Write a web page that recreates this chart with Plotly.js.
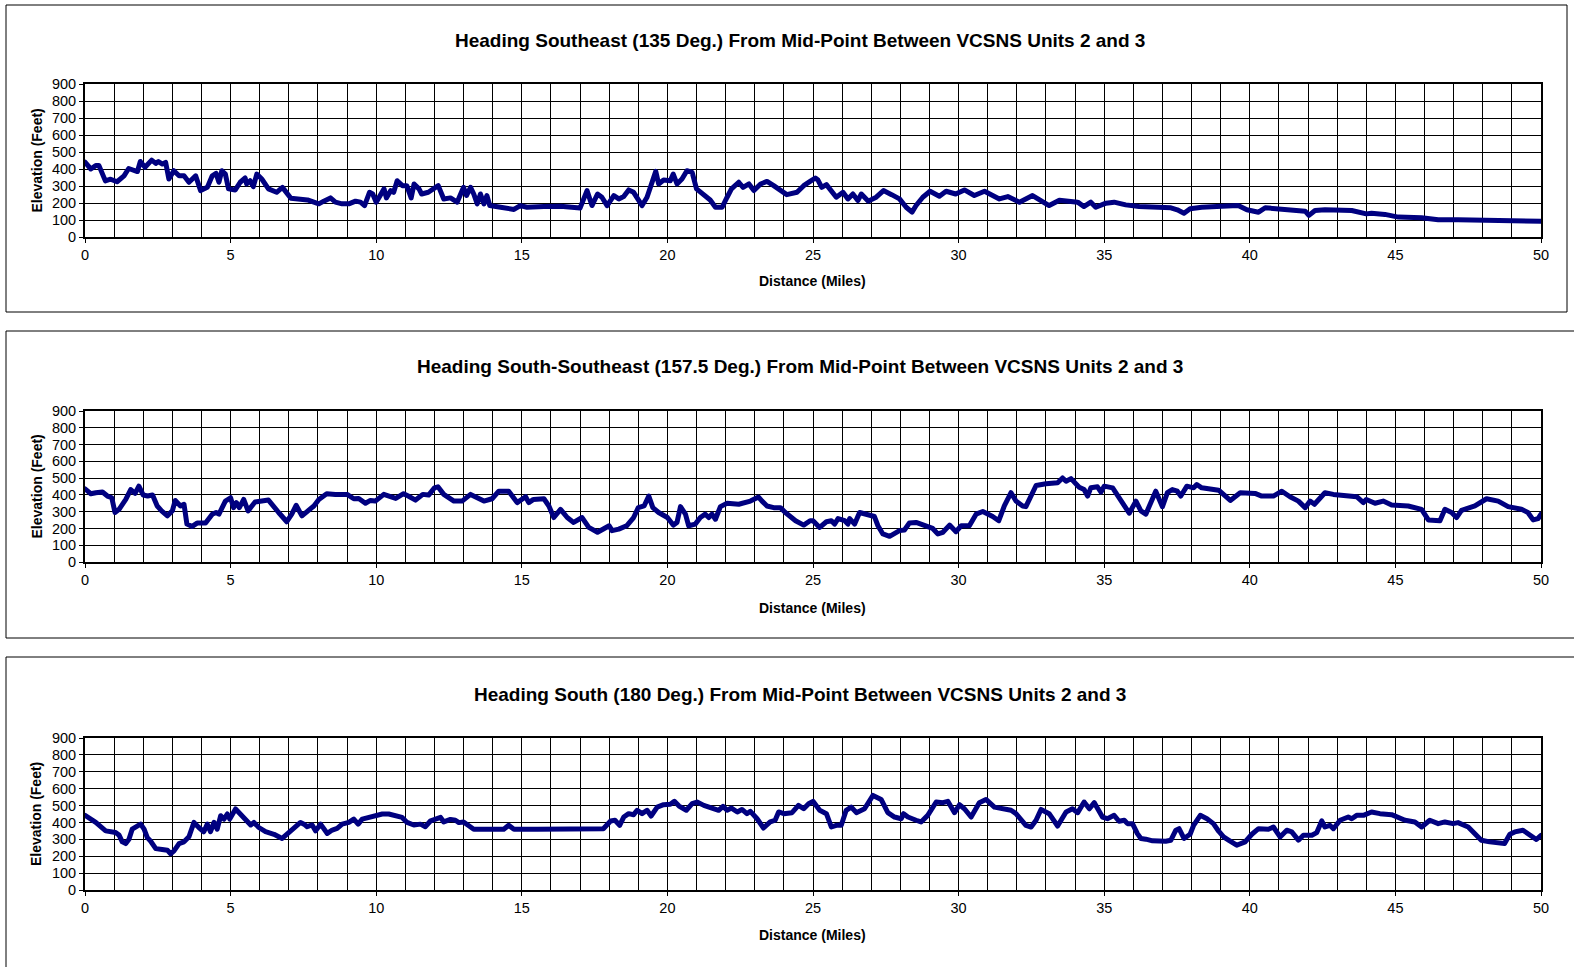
<!DOCTYPE html>
<html>
<head>
<meta charset="utf-8">
<script src="https://cdn.plot.ly/plotly-3.0.1.min.js"></script>
<style>html,body{margin:0;padding:0;background:#fff;overflow:hidden;width:1574px;height:967px;}#chart{width:1574px;height:967px;overflow:hidden;}
.scatterlayer .js-line{stroke-linejoin:round !important;stroke-linecap:round !important;}</style>
</head>
<body>
<div id="chart"></div>
<script>
// ---- Data ----
var titles = [
  "Heading Southeast (135 Deg.) From Mid-Point Between VCSNS Units 2 and 3",
  "Heading South-Southeast (157.5 Deg.) From Mid-Point Between VCSNS Units 2 and 3",
  "Heading South (180 Deg.) From Mid-Point Between VCSNS Units 2 and 3"
];
var xTitle = "Distance (Miles)";
var yTitle = "Elevation (Feet)";
var xTickVals = [0,5,10,15,20,25,30,35,40,45,50];
var yTickVals = [0,100,200,300,400,500,600,700,800,900];

var se_mi = [0,0.2,0.37,0.48,0.7,0.88,1.1,1.34,1.5,1.68,1.8,1.9,2.06,2.29,2.43,2.52,2.66,2.77,2.88,3.05,3.23,3.4,3.57,3.8,3.97,4.2,4.37,4.5,4.6,4.7,4.82,4.93,5.16,5.33,5.5,5.55,5.67,5.78,5.9,6.07,6.3,6.58,6.78,7.07,7.35,7.64,7.86,8.03,8.2,8.43,8.6,8.83,9.06,9.29,9.46,9.6,9.77,9.88,10.0,10.27,10.35,10.5,10.6,10.72,10.9,11.05,11.2,11.3,11.47,11.56,11.79,11.9,12.13,12.32,12.55,12.78,13.0,13.1,13.24,13.35,13.47,13.58,13.7,13.8,13.9,14.27,14.73,14.95,15.18,15.76,16.33,17.0,17.13,17.24,17.41,17.6,17.75,17.93,18.16,18.33,18.5,18.67,18.84,19.0,19.13,19.3,19.47,19.6,19.7,19.87,20.1,20.2,20.33,20.5,20.67,20.85,21.0,21.25,21.47,21.65,21.88,22.05,22.2,22.45,22.6,22.8,22.97,23.2,23.42,23.65,23.88,24.1,24.45,24.68,24.9,25.08,25.17,25.3,25.46,25.8,26.03,26.2,26.37,26.54,26.66,26.9,27.17,27.42,27.7,27.97,28.2,28.4,28.54,28.77,29.02,29.34,29.57,29.9,30.2,30.54,30.89,31.23,31.4,31.69,32.09,32.54,32.89,33.11,33.46,33.8,34.09,34.3,34.54,34.71,35.06,35.34,35.74,36.2,36.77,37.29,37.51,37.74,37.95,38.35,39.04,39.6,39.9,40.3,40.53,41.1,41.55,41.9,42.03,42.24,42.58,43.5,44.0,44.18,44.64,45.1,45.9,46.47,47.15,48.07,48.98,50];
var se_ft = [440,400,420,420,330,340,325,360,403,394,385,444,410,452,433,444,429,439,341,390,360,360,322,360,273,292,360,374,322,390,370,283,277,322,347,312,331,296,370,341,283,263,292,228,224,218,205,195,211,230,205,195,195,211,205,185,263,253,205,283,230,273,263,331,302,302,230,312,283,253,263,273,302,224,230,205,292,244,292,253,195,253,195,244,185,175,162,185,175,179,181,170,230,273,185,253,234,185,244,224,238,277,263,224,185,234,331,386,312,335,331,370,312,341,390,380,283,253,218,175,175,234,283,322,292,312,273,312,327,302,277,249,263,302,327,347,335,292,308,234,263,224,253,214,253,211,234,273,249,224,175,146,185,234,269,240,269,253,277,244,269,244,224,238,205,244,205,185,216,214,205,179,205,175,199,205,189,179,172,172,160,140,166,175,181,185,160,146,172,166,160,152,127,156,160,156,136,140,133,117,113,101,101,97,92,92];

var sse_mi = [0,0.2,0.37,0.6,0.77,0.92,1.03,1.17,1.4,1.57,1.72,1.85,2.0,2.15,2.32,2.48,2.63,2.83,3.0,3.1,3.28,3.4,3.5,3.68,3.85,4.14,4.37,4.5,4.6,4.82,5.0,5.1,5.2,5.3,5.45,5.6,5.84,6.07,6.3,6.65,6.93,7.1,7.25,7.45,7.6,7.86,8.03,8.3,8.6,9.0,9.23,9.4,9.63,9.8,9.97,10.26,10.67,10.94,11.1,11.35,11.6,11.8,12.0,12.12,12.32,12.67,12.95,13.24,13.7,13.98,14.21,14.55,14.84,15.0,15.13,15.24,15.4,15.76,15.93,16.1,16.33,16.56,16.78,17.07,17.3,17.6,17.8,18.0,18.1,18.33,18.6,18.84,19.0,19.2,19.36,19.5,19.7,20.0,20.2,20.33,20.45,20.62,20.73,20.96,21.13,21.3,21.42,21.53,21.65,21.82,22.05,22.45,22.85,23.13,23.25,23.42,23.65,23.88,24.05,24.4,24.68,24.9,25.0,25.23,25.46,25.63,25.74,25.86,26.09,26.2,26.26,26.43,26.6,26.83,27.11,27.23,27.4,27.63,27.97,28.14,28.31,28.54,28.89,29.11,29.29,29.46,29.69,29.91,30.09,30.37,30.6,30.83,31.17,31.38,31.57,31.8,31.97,32.2,32.31,32.66,33.0,33.4,33.57,33.69,33.86,34.14,34.31,34.43,34.54,34.77,34.89,35.0,35.29,35.57,35.86,36.09,36.26,36.43,36.77,37.0,37.17,37.34,37.51,37.63,37.84,38.07,38.18,38.35,38.93,39.33,39.67,40.18,40.41,40.81,41.1,41.38,41.67,41.9,42.07,42.22,42.58,42.87,43.27,43.67,43.9,44.0,44.3,44.58,44.87,45.44,45.9,46.13,46.53,46.7,46.93,47.1,47.27,47.73,48.13,48.53,48.87,49.33,49.55,49.73,49.9,50];
var sse_ft = [436,407,413,417,393,383,295,314,373,432,409,452,399,393,399,334,305,275,305,367,334,344,226,212,232,232,285,295,285,363,383,324,354,324,373,305,358,363,369,295,240,285,338,275,299,334,373,407,403,403,377,379,350,367,363,403,379,407,393,369,403,399,442,448,403,363,363,403,363,377,422,422,354,373,389,354,373,377,334,265,314,265,236,265,206,177,193,216,187,196,216,265,324,334,393,324,295,265,220,236,330,285,216,226,265,285,265,285,255,330,350,344,363,387,363,334,324,324,295,246,220,246,246,206,240,246,226,259,246,226,259,226,295,285,271,216,167,153,187,191,232,236,216,200,167,177,220,181,216,216,285,301,271,246,334,413,363,334,330,456,466,472,501,481,497,446,432,393,442,448,417,452,442,373,291,363,305,285,422,330,413,432,422,393,452,442,462,442,428,367,413,409,393,393,422,389,363,324,363,344,413,403,393,389,354,373,350,363,340,334,314,251,246,314,295,265,308,334,377,363,330,314,295,251,259,285];

var s_mi = [0,0.37,0.71,1.05,1.17,1.28,1.4,1.51,1.62,1.8,1.91,2.03,2.14,2.25,2.43,2.65,2.83,2.94,3.05,3.23,3.4,3.57,3.74,3.91,4.08,4.2,4.31,4.43,4.54,4.66,4.77,4.89,4.97,5.17,5.34,5.51,5.69,5.8,5.97,6.2,6.49,6.77,6.95,7.06,7.23,7.4,7.52,7.63,7.8,7.92,8.09,8.32,8.49,8.66,8.83,9.06,9.23,9.38,9.52,9.75,9.98,10.21,10.43,10.66,10.89,11.06,11.29,11.52,11.69,11.87,12.04,12.21,12.32,12.55,12.72,12.84,13.0,13.2,13.35,13.8,14.38,14.55,14.73,15.53,16.67,17.36,17.8,18.05,18.2,18.36,18.5,18.67,18.84,18.96,19.13,19.3,19.44,19.65,19.87,20.1,20.24,20.4,20.65,20.85,21.02,21.25,21.53,21.76,21.91,22.05,22.2,22.4,22.56,22.73,22.85,23.08,23.3,23.53,23.7,23.82,24.0,24.28,24.5,24.68,24.85,25.0,25.23,25.46,25.63,25.8,25.97,26.14,26.31,26.49,26.77,27.06,27.34,27.57,27.8,28.03,28.11,28.26,28.54,28.71,28.94,29.23,29.46,29.63,29.86,30.03,30.2,30.43,30.71,30.94,31.23,31.51,31.8,31.97,32.31,32.49,32.66,32.83,33.11,33.4,33.69,33.91,34.09,34.31,34.49,34.66,34.94,35.11,35.34,35.51,35.69,35.8,35.97,36.14,36.26,36.43,36.66,37.11,37.29,37.46,37.57,37.74,37.95,38.07,38.3,38.53,38.75,38.93,39.1,39.27,39.55,39.84,40.07,40.3,40.64,40.81,41.04,41.27,41.44,41.67,41.84,42.13,42.3,42.47,42.58,42.75,42.87,43.1,43.38,43.5,43.67,43.9,44.18,44.47,44.87,45.33,45.67,45.9,46.18,46.47,46.7,46.98,47.15,47.5,47.73,47.95,48.24,48.75,48.93,49.1,49.38,49.55,49.73,49.84,50];
var s_ft = [442,400,350,340,325,285,275,300,360,380,390,360,310,290,245,240,235,215,230,275,285,315,400,370,345,390,345,400,360,440,420,450,420,480,450,420,385,400,370,345,330,305,335,345,375,400,390,375,385,350,390,335,355,365,390,400,420,390,420,430,440,450,450,440,430,400,385,390,375,410,420,430,403,418,413,399,403,383,360,360,360,383,360,360,360,360,363,409,413,383,432,452,446,472,452,472,438,491,505,507,525,497,472,511,521,501,485,472,495,472,485,462,477,452,466,422,367,403,413,462,452,458,501,481,511,525,472,452,373,383,383,472,491,458,481,560,536,458,432,422,452,432,413,403,442,521,517,525,458,505,481,432,517,536,491,485,472,452,383,373,413,477,452,379,462,481,458,521,481,517,432,422,442,407,413,393,393,334,305,301,291,289,295,354,363,305,330,383,442,422,393,348,314,295,265,285,330,363,360,373,314,354,344,295,324,324,340,409,373,383,363,413,432,422,442,442,462,452,446,413,403,373,413,393,403,393,399,373,334,295,285,275,330,344,354,334,305,299,324];

var seriesX = [se_mi, sse_mi, s_mi];
var seriesY = [se_ft, sse_ft, s_ft];

// ---- Layout geometry (pixel positions on a 1574x967 page) ----
var W = 1574, H = 967;
function px(x){ return x / W; }
function py(y){ return 1 - y / H; }
var plotTop = [84, 411, 738], plotBot = [237, 562, 890];
var boxTop = [5, 331, 657], boxBot = [312, 638, 990], boxRight = [1567, 1600, 1600];
var titleY = [40, 366, 694], xTitleY = [281, 608, 935];

var FONT = "Arial, 'Liberation Sans', Helvetica, sans-serif";
var traces = [], layout = {
  width: W, height: H, margin: {l:0, r:0, t:0, b:0},
  paper_bgcolor: "#fff", plot_bgcolor: "#fff", showlegend: false,
  font: {family: FONT, color: "#000", size: 14},
  shapes: [], annotations: []
};

for (var i = 0; i < 3; i++) {
  var sfx = i === 0 ? "" : String(i + 1);
  traces.push({
    type: "scatter", mode: "lines", x: seriesX[i], y: seriesY[i],
    xaxis: "x" + sfx, yaxis: "y" + sfx,
    line: {color: "#000080", width: 5}, hoverinfo: "x+y"
  });
  layout["xaxis" + sfx] = {
    domain: [px(85), px(1541)], anchor: "y" + sfx, range: [0, 50],
    tickvals: xTickVals, ticks: "outside", ticklen: 4, tickcolor: "#000", tickwidth: 1,
    showgrid: true, gridcolor: "#000", gridwidth: 1,
    minor: {dtick: 1, showgrid: true, gridcolor: "#000", gridwidth: 1, ticks: ""},
    showline: true, linecolor: "#000", linewidth: 2, mirror: true, zeroline: false,
    tickfont: {size: 14.5, family: FONT}, fixedrange: true
  };
  layout["yaxis" + sfx] = {
    domain: [py(plotBot[i]), py(plotTop[i])], anchor: "x" + sfx, range: [0, 900],
    tickvals: yTickVals, ticks: "outside", ticklen: 4, tickcolor: "#000", tickwidth: 1,
    showgrid: true, gridcolor: "#000", gridwidth: 1,
    showline: true, linecolor: "#000", linewidth: 2, mirror: true, zeroline: false,
    tickfont: {size: 14.5, family: FONT}, fixedrange: true
  };
  layout.shapes.push({
    type: "rect", xref: "paper", yref: "paper",
    x0: px(6), x1: px(boxRight[i]), y0: py(boxBot[i]), y1: py(boxTop[i]),
    line: {color: "#000", width: 1}, fillcolor: "rgba(0,0,0,0)", layer: "below"
  });
  layout.annotations.push({
    text: "<b>" + titles[i] + "</b>", xref: "paper", yref: "paper",
    x: px(800), y: py(titleY[i]), xanchor: "center", yanchor: "middle",
    showarrow: false, font: {size: 19, family: FONT}
  });
  layout.annotations.push({
    text: "<b>" + xTitle + "</b>", xref: "paper", yref: "paper",
    x: px(813), y: py(xTitleY[i]), xanchor: "center", yanchor: "middle",
    showarrow: false, font: {size: 14, family: FONT}
  });
  layout.annotations.push({
    text: "<b>" + yTitle + "</b>", xref: "paper", yref: "paper",
    x: px(36), y: py((plotTop[i] + plotBot[i]) / 2), xanchor: "center", yanchor: "middle",
    textangle: -90, showarrow: false, font: {size: 14, family: FONT}
  });
}

Plotly.newPlot("chart", traces, layout, {displayModeBar: false, staticPlot: true});
</script>
</body>
</html>
